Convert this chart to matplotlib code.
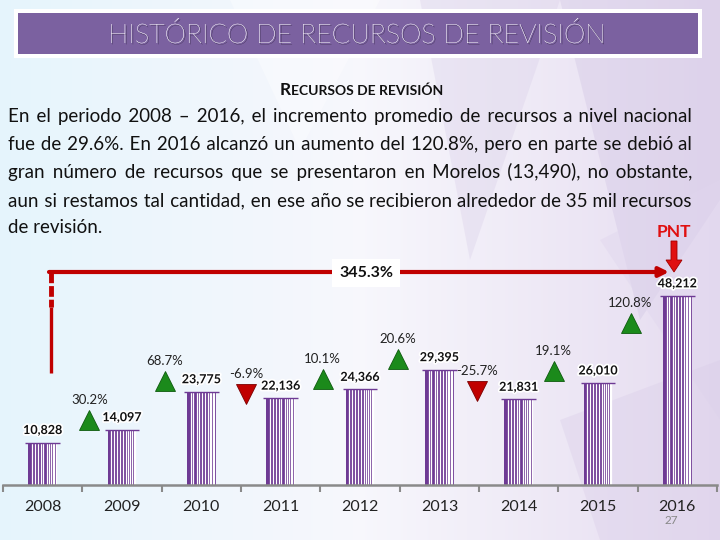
import matplotlib
matplotlib.use('Agg')
import matplotlib.pyplot as plt
import matplotlib.patheffects as pe
from matplotlib.patches import Rectangle, Polygon, FancyArrow
import numpy as np

# ---------------- data ----------------
years = ['2008', '2009', '2010', '2011', '2012', '2013', '2014', '2015', '2016']
values = [10828, 14097, 23775, 22136, 24366, 29395, 21831, 26010, 48212]
changes = [30.2, 68.7, -6.9, 10.1, 20.6, -25.7, 19.1, 120.8]
change_labels = ['30.2%', '68.7%', '-6.9%', '10.1%', '20.6%', '-25.7%', '19.1%', '120.8%']
total_change_label = '345.3%'
title = 'HISTÓRICO DE RECURSOS DE REVISIÓN'
subtitle_first = 'R'
subtitle_rest = 'ECURSOS DE REVISIÓN'
paragraph_lines = [
    'En el periodo 2008 – 2016, el incremento promedio de recursos a nivel nacional',
    'fue de 29.6%. En 2016 alcanzó un aumento del 120.8%, pero en parte se debió al',
    'gran número de recursos que se presentaron en Morelos (13,490), no obstante,',
    'aun si restamos tal cantidad, en ese año se recibieron alrededor de 35 mil recursos',
    'de revisión.',
]
source_label = 'PNT'
page_number = '27'

# ---------------- layout / style ----------------
tri_dx = [0.09, 0.04, 0.06, 0.03, -0.02, -0.02, -0.06, -0.09]
tri_dy_px = [10, 11, 4, 10, 11, 8, 12, -27]
stripe_offsets = [-0.135, -0.10, -0.06, -0.025, 0.01, 0.05, 0.08, 0.105, 0.125, 0.145, 0.165]
BAR_W = 0.36
PURPLE = '#6E3A94'
GREEN = '#1B8A1B'
RED = '#C00000'
BRIGHT_RED = '#E01010'
FONT = 'Lato'

plt.rcParams['font.family'] = [FONT, 'DejaVu Sans']

W, H = 720, 540
fig = plt.figure(figsize=(7.2, 5.4), dpi=100)

# background
bg = fig.add_axes([0, 0, 1, 1], zorder=0)
bg.set_xlim(0, W); bg.set_ylim(H, 0); bg.axis('off')
xs = np.linspace(0, 1, 256)
c_left = np.array([0.90, 0.96, 0.99])
c_mid = np.array([0.97, 0.97, 0.99])
c_right = np.array([0.90, 0.86, 0.94])
grad = np.zeros((2, 256, 3))
for k, t in enumerate(xs):
    if t < 0.5:
        c = c_left + (c_mid - c_left) * (t / 0.5)
    else:
        c = c_mid + (c_right - c_mid) * ((t - 0.5) / 0.5)
    grad[:, k, :] = c
bg.imshow(grad, extent=[0, W, H, 0], aspect='auto', zorder=0)
for pts, col, a in [
    ([(420, 0), (560, 0), (470, 260)], '#d9cfe8', 0.35),
    ([(560, 0), (720, 0), (720, 200), (640, 320)], '#cfc2e2', 0.35),
    ([(600, 240), (720, 180), (720, 420)], '#e0d6ee', 0.45),
    ([(560, 420), (720, 360), (720, 540), (600, 540)], '#d8cce8', 0.35),
    ([(230, 0), (380, 0), (300, 150)], '#ffffff', 0.35),
]:
    bg.add_patch(Polygon(pts, closed=True, fc=col, ec='none', alpha=a, zorder=1))

# ---------------- chart axes ----------------
ax_left, ax_right = 3, 717
ax_bottom, ax_top = 485, 250
ax = fig.add_axes([ax_left / W, (H - ax_bottom) / H, (ax_right - ax_left) / W,
                   (ax_bottom - ax_top) / H], zorder=1)
ax.patch.set_visible(False)
YMAX = 59900
ax.set_ylim(0, YMAX)
ax.set_xlim(-0.5, len(years) - 0.5)
px_per_unit = (ax_bottom - ax_top) / YMAX

x = np.arange(len(years))
ax.bar(x, values, width=BAR_W, color=PURPLE, linewidth=0, zorder=2)
# barcode-like white stripes inside each bar
for i, v in enumerate(values):
    ax.vlines(i + np.array(stripe_offsets), 0, v, colors='white', lw=0.9, zorder=2.5)
ax.hlines(values, x - 0.22, x + 0.22, color=PURPLE, lw=1.0, zorder=3)

for s in ['left', 'right', 'top']:
    ax.spines[s].set_visible(False)
ax.spines['bottom'].set_color('#8a8a8a')
ax.spines['bottom'].set_linewidth(1.8)
ax.spines['bottom'].set_zorder(4)
ax.set_yticks([])
ax.set_xticks(x)
ax.set_xticklabels(years, fontsize=11.5, color='#222222')
ax.tick_params(axis='x', which='major', length=0, pad=11)
ax.set_xticks(np.arange(-0.5, len(years), 1.0), minor=True)
ax.tick_params(axis='x', which='minor', length=5, width=1.5, color='#8a8a8a', direction='out')

stroke = [pe.withStroke(linewidth=2.5, foreground='white')]
for i, v in enumerate(values):
    ax.annotate(f'{v:,}', (i, v), xytext=(0, 9), textcoords='offset points',
                ha='center', va='center', fontsize=9, fontweight='bold',
                color='#111111', path_effects=stroke, zorder=5)

for j, ch in enumerate(changes):
    i = j + 1
    tx = i - 0.5 + tri_dx[j]
    ty = values[i] + tri_dy_px[j] / px_per_unit
    up = ch >= 0
    ax.plot([tx], [ty], marker='^' if up else 'v', markersize=14,
            color=GREEN if up else RED, mec='#0d5a0d' if up else '#7a0000', mew=0.6,
            zorder=4, clip_on=False)
    ax.annotate(change_labels[j], (tx, ty), xytext=(0, 14.5), textcoords='offset points',
                ha='center', va='center', fontsize=9.5, color='#222222', zorder=5)

# ---------------- overlay (pixel coordinates) ----------------
ov = fig.add_axes([0, 0, 1, 1], zorder=2)
ov.set_xlim(0, W); ov.set_ylim(H, 0); ov.axis('off')
ov.patch.set_visible(False)

# title box
ov.add_patch(Rectangle((14, 9), 688, 49, fc='white', ec='none', zorder=1))
ov.add_patch(Rectangle((18, 13), 680, 41, fc='#7B61A0', ec='none', zorder=2))
ov.text(357, 35, title, ha='center', va='center', fontsize=19.5, color='white',
        fontweight='light', zorder=3,
        path_effects=[pe.withSimplePatchShadow(offset=(1.0, -1.0), shadow_rgbFace='#2a2238',
                                               alpha=0.9), pe.Normal()])

fig.canvas.draw()
r = fig.canvas.get_renderer()


def measure(s, **kw):
    t = ov.text(0, 0, s, **kw)
    w = t.get_window_extent(r).width
    t.remove()
    return w


# subtitle in small caps
t1 = ov.text(0, 95, subtitle_first, ha='left', va='baseline', fontsize=12.5,
             fontweight='bold', color='#111111')
t2 = ov.text(0, 95, subtitle_rest, ha='left', va='baseline', fontsize=10,
             fontweight='bold', color='#111111')
w1 = t1.get_window_extent(r).width
w2 = t2.get_window_extent(r).width
x0 = 361 - (w1 + w2) / 2
t1.set_x(x0)
t2.set_x(x0 + w1 + 0.5)

# justified paragraph (one text per line, extra hair spaces fill the width)
para_x0, para_x1 = 8, 692
line_base = [122, 150, 178, 206, 233]
PFS = 13.5
HAIR = '\u200a'
hair_w = (measure('a' + HAIR * 20 + 'a', fontsize=PFS) - measure('aa', fontsize=PFS)) / 20
for li, line in enumerate(paragraph_lines):
    s = line
    if li < len(paragraph_lines) - 1 and hair_w > 0:
        natural = measure(line, fontsize=PFS)
        words = line.split(' ')
        ngaps = len(words) - 1
        total = max(0, int(round((para_x1 - para_x0 - natural) / hair_w)))
        base, rem = divmod(total, ngaps)
        parts = [words[0]]
        for g in range(ngaps):
            n = base + (1 if g < rem else 0)
            parts.append(' ' + HAIR * n + words[g + 1])
        s = ''.join(parts)
    ov.text(para_x0, line_base[li], s, ha='left', va='baseline', fontsize=PFS,
            color='#111111')

# PNT marker
ov.text(674, 232, source_label, ha='center', va='center', fontsize=12.5,
        fontweight='bold', color=BRIGHT_RED)
ov.add_patch(FancyArrow(674, 241, 0, 31, width=6, head_width=16, head_length=12,
                        length_includes_head=True, fc=BRIGHT_RED, ec='#a00000', lw=0.6, zorder=5))

# red bracket for total change
bx, by = 51, 272
ov.plot([bx, bx], [307, 373], color=RED, lw=2.4, solid_capstyle='butt', zorder=4)
ov.plot([bx, bx], [272, 307], color=RED, lw=3.5, linestyle=(0, (2.2, 0.6)), zorder=4)
ov.annotate('', xy=(669, by), xytext=(bx - 2, by),
            arrowprops=dict(arrowstyle='-|>', color=RED, lw=3, mutation_scale=14,
                            shrinkA=0, shrinkB=0), zorder=4)
ov.text(366, 273, total_change_label, ha='center', va='center', fontsize=11.5,
        fontweight='bold', color='#111111', zorder=6,
        bbox=dict(boxstyle='square,pad=0.45', fc='white', ec='none'))

ov.text(671, 520, page_number, ha='center', va='center', fontsize=8.5, color='#888888')

fig.savefig('out.png', dpi=100)
